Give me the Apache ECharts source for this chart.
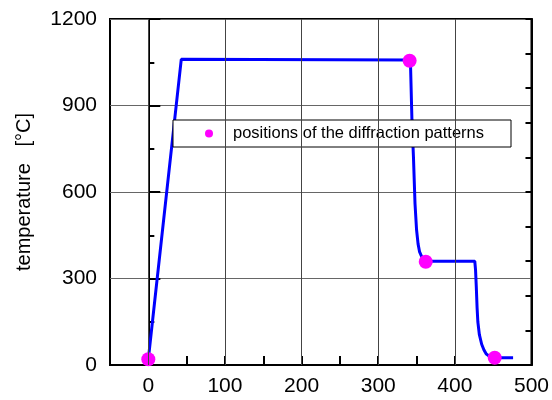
<!DOCTYPE html>
<html>
<head>
<meta charset="utf-8">
<script src="https://cdn.jsdelivr.net/npm/echarts@6/dist/echarts.min.js"></script>
<style>
  html, body { margin: 0; padding: 0; background: #fff; }
  #chart { width: 552px; height: 400px; }
</style>
</head>
<body>
<div id="chart"></div>
<script>
// temperature profile (time, °C)
const profile = [
  [0, 20], [43, 1060], [342, 1058], [344, 850], [346, 720], [348, 560],
  [350, 470], [352, 420], [354, 392], [357, 374], [362, 362], [366, 360],
  [426, 360], [427, 330], [428, 270], [429, 200], [430, 150], [432, 105],
  [435, 72], [438, 52], [441, 38], [446, 29], [452, 25], [476, 25]
];
// where the diffraction patterns were taken
const patterns = [[0, 20], [341, 1055], [362, 358], [452, 25]];
const xGrid = [0, 100, 200, 300, 400];
const xLabels = [0, 100, 200, 300, 400, 500];

const font = 'Liberation Sans, Arial, sans-serif';
const chart = echarts.init(document.getElementById('chart'));

chart.setOption({
  animation: false,
  grid: {
    left: 110,
    right: 19,
    top: 19,
    bottom: 35,
    show: true,
    borderColor: '#000',
    borderWidth: 2,
  },
  legend: {
    data: ['positions of the diffraction patterns'],
    left: 173,
    top: 120,
    padding: [5, 27, 5, 32],
    icon: 'circle',
    itemWidth: 8,
    itemHeight: 8,
    backgroundColor: '#fff',
    borderColor: '#000',
    borderWidth: 1,
    borderRadius: 0,
    textStyle: { fontFamily: font, fontSize: 16.5, color: '#000', padding: [0, 0, 0, 15] },
  },
  xAxis: {
    type: 'value',
    min: -50,
    max: 500,
    interval: 50,
    axisLine: { onZero: false, lineStyle: { color: '#000', width: 2 } },
    axisTick: { inside: true, length: 9, lineStyle: { color: '#000', width: 2 } },
    axisLabel: {
      color: '#000',
      fontFamily: font,
      fontSize: 21,
      margin: 11,
      formatter: function (v) {
        return xLabels.indexOf(v) >= 0 ? String(v) : '';
      },
    },
    splitLine: { show: false },
  },
  yAxis: [
    {
      type: 'value',
      min: 0,
      max: 1200,
      interval: 300,
      name: 'temperature   [°C]',
      nameLocation: 'middle',
      nameGap: 76,
      nameTextStyle: { color: '#000', fontFamily: font, fontSize: 20 },
      axisLine: { show: true, lineStyle: { color: '#000', width: 2 } },
      axisTick: { inside: true, length: 12, lineStyle: { color: '#000', width: 2 } },
      minorTick: { show: true, splitNumber: 2, length: 6, lineStyle: { color: '#000', width: 2 } },
      axisLabel: {
        color: '#000',
        fontFamily: font,
        fontSize: 21,
        margin: 13,
        formatter: function (v) { return String(v); },
      },
      splitLine: { show: true, lineStyle: { color: '#666', width: 1 } },
    },
    {
      type: 'value',
      position: 'right',
      min: 0,
      max: 1200,
      interval: 120,
      axisLine: { show: true, lineStyle: { color: '#000', width: 2 } },
      axisTick: { inside: true, length: 6, lineStyle: { color: '#000', width: 2 } },
      axisLabel: { show: false },
      splitLine: { show: false },
    },
  ],
  series: [
    {
      type: 'line',
      data: [],
      silent: true,
      z: 1,
      markLine: {
        silent: true,
        symbol: 'none',
        label: { show: false },
        lineStyle: { color: '#444', width: 1, type: 'solid' },
        data: xGrid.map(function (v) { return { xAxis: v }; }),
      },
    },
    {
      name: 'temperature',
      type: 'line',
      data: profile,
      showSymbol: false,
      z: 3,
      lineStyle: { color: '#0000ff', width: 3 },
      itemStyle: { color: '#0000ff' },
    },
    {
      name: 'positions of the diffraction patterns',
      type: 'scatter',
      data: patterns,
      symbol: 'circle',
      symbolSize: 14,
      z: 4,
      itemStyle: { color: '#ff00ff', opacity: 1 },
    },
  ],
});
</script>
</body>
</html>
